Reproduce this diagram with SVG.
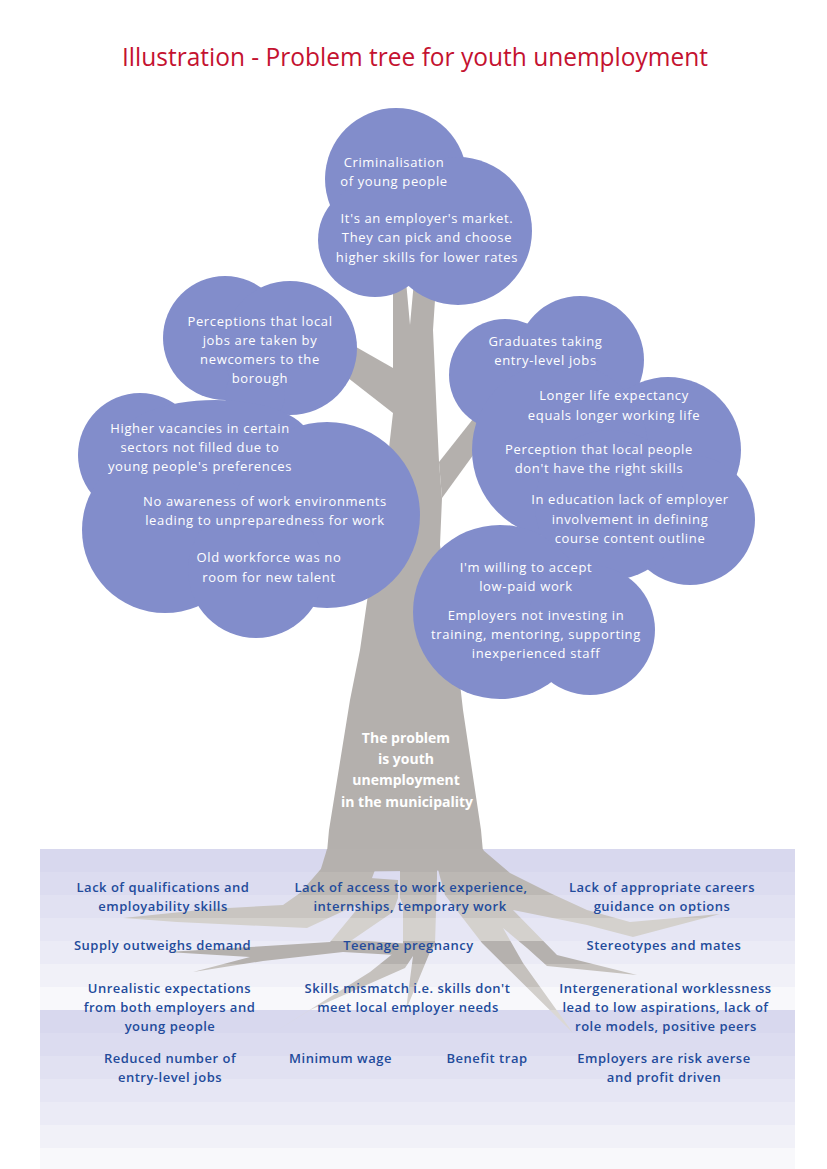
<svg xmlns="http://www.w3.org/2000/svg" width="827" height="1169" viewBox="0 0 827 1169">
<style>
text{font-family:"Open Sans","Noto Sans","DejaVu Sans",sans-serif;text-anchor:middle}
.ct{font-size:13px;fill:#ffffff;letter-spacing:0.65px;font-weight:500}
.rt{font-size:13px;fill:#234b9b;letter-spacing:0.5px;font-weight:600}
.tt{font-size:14px;fill:#ffffff;font-weight:bold}
.title{font-size:26px;fill:#c41230}
.cloud{fill:#828dcb}
.wood{fill:#b4b0ad}
.root{fill:url(#rootGrad)}
</style>
<defs>
<linearGradient id="rootGrad" gradientUnits="userSpaceOnUse" x1="0" y1="849" x2="0" y2="1040">
<stop offset="0" stop-color="#b5b1ae"/><stop offset="0.1204" stop-color="#b5b1ae"/>
<stop offset="0.1204" stop-color="#bcb8b4"/><stop offset="0.2408" stop-color="#bcb8b4"/>
<stop offset="0.2408" stop-color="#c9c5c1"/><stop offset="0.3613" stop-color="#c9c5c1"/>
<stop offset="0.3613" stop-color="#d4d1cd"/><stop offset="0.4817" stop-color="#d4d1cd"/>
<stop offset="0.4817" stop-color="#b5b1ae"/><stop offset="0.6021" stop-color="#b5b1ae"/>
<stop offset="0.6021" stop-color="#c5c1bd"/><stop offset="0.7225" stop-color="#c5c1bd"/>
<stop offset="0.7225" stop-color="#d2cfcb"/><stop offset="0.8429" stop-color="#d2cfcb"/>
<stop offset="0.8429" stop-color="#dbd8d4"/><stop offset="1" stop-color="#dbd8d4"/>
</linearGradient>
</defs>
<rect x="0" y="0" width="827" height="1169" fill="#ffffff"/>
<g id="background-bands">
<rect x="40" y="849" width="755" height="23" fill="#d8d8ee"/>
<rect x="40" y="872" width="755" height="23" fill="#dcdcf0"/>
<rect x="40" y="895" width="755" height="23" fill="#e1e1f2"/>
<rect x="40" y="918" width="755" height="23" fill="#e6e6f4"/>
<rect x="40" y="941" width="755" height="23" fill="#ebebf6"/>
<rect x="40" y="964" width="755" height="23" fill="#f1f1f8"/>
<rect x="40" y="987" width="755" height="23" fill="#f8f8fb"/>
<rect x="40" y="1010" width="755" height="23" fill="#d8d8ee"/>
<rect x="40" y="1033" width="755" height="23" fill="#dcdcf0"/>
<rect x="40" y="1056" width="755" height="23" fill="#e1e1f2"/>
<rect x="40" y="1079" width="755" height="23" fill="#e6e6f4"/>
<rect x="40" y="1102" width="755" height="23" fill="#ebebf6"/>
<rect x="40" y="1125" width="755" height="23" fill="#f1f1f8"/>
<rect x="40" y="1148" width="755" height="21" fill="#f8f8fb"/>
</g>
<g id="title">
<text class="title" x="415" y="66" textLength="586" lengthAdjust="spacingAndGlyphs">Illustration - Problem tree for youth unemployment</text>
</g>
<g id="connectors">
<polygon class="wood" points="393,270 405,270 410,325 415,270 437,270 433,330 437,420 439,462 442,498 440,545 455,640 463,710 481,830 483,852 327,852 329,830 350,700 360,650 388,457 393,413"/>
<polygon class="wood" points="393,368 335,335 325,360 393,413"/>
<polygon class="wood" points="439,462 488,400 500,418 442,498"/>
<polygon class="root" points="327,849 483,849 490,870 320,872"/>
<polygon class="root" points="335,855 320,870 300,893 283,905 210,909 123,918 177,922 307,928 363,902 375,870"/>
<polygon class="root" points="363,902 370,878 398,880 398,898 393,912 352,940 413,944 413,956 343,952 263,961 193,972 250,957 167,952 250,947 330,942"/>
<polygon class="root" points="400,865 437,865 437,877 435,945 430,952 406,1010 413,956 405,968 310,1010 273,1033 370,972 395,952 403,945 403,905 400,898"/>
<polygon class="root" points="476,849 483,850 510,873 550,893 587,910 630,922 720,914 633,937 587,925 513,910 557,955 637,975 547,966 527,948 503,928 523,963 573,1033 482,943 445,895 440,877 437,865 440,849"/>
</g>
<g id="canopy">
<circle class="cloud" cx="396" cy="179" r="71"/>
<circle class="cloud" cx="458" cy="231" r="74"/>
<circle class="cloud" cx="375" cy="240" r="57"/>
<circle class="cloud" cx="225" cy="338" r="62"/>
<circle class="cloud" cx="290" cy="348" r="67"/>
<circle class="cloud" cx="255" cy="395" r="30"/>
<circle class="cloud" cx="140" cy="455" r="62"/>
<ellipse class="cloud" cx="215" cy="440" rx="95" ry="40"/>
<circle class="cloud" cx="230" cy="478" r="32"/>
<circle class="cloud" cx="327" cy="515" r="93"/>
<circle class="cloud" cx="165" cy="530" r="83"/>
<circle class="cloud" cx="256" cy="570" r="68"/>
<circle class="cloud" cx="505" cy="375" r="56"/>
<circle class="cloud" cx="580" cy="360" r="64"/>
<circle class="cloud" cx="668" cy="450" r="73"/>
<circle class="cloud" cx="690" cy="520" r="65"/>
<circle class="cloud" cx="560" cy="450" r="88"/>
<circle class="cloud" cx="610" cy="505" r="75"/>
<circle class="cloud" cx="500" cy="612" r="87"/>
<circle class="cloud" cx="590" cy="630" r="65"/>
</g>
<g id="n-criminalisation"><text class="ct" x="394" y="167">Criminalisation</text><text class="ct" x="394" y="186">of young people</text></g>
<g id="n-employers-market"><text class="ct" x="427" y="223">It's an employer's market.</text><text class="ct" x="427" y="242">They can pick and choose</text><text class="ct" x="427" y="261.5">higher skills for lower rates</text></g>
<g id="n-perceptions-newcomers"><text class="ct" x="260" y="325.5">Perceptions that local</text><text class="ct" x="260" y="344.5">jobs are taken by</text><text class="ct" x="260" y="363.5">newcomers to the</text><text class="ct" x="260" y="382.5">borough</text></g>
<g id="n-higher-vacancies"><text class="ct" x="200" y="432.5">Higher vacancies in certain</text><text class="ct" x="200" y="451.5">sectors not filled due to</text><text class="ct" x="200" y="470.5">young people's preferences</text></g>
<g id="n-no-awareness"><text class="ct" x="265" y="505.5">No awareness of work environments</text><text class="ct" x="265" y="525">leading to unpreparedness for work</text></g>
<g id="n-old-workforce"><text class="ct" x="269" y="562">Old workforce was no</text><text class="ct" x="269" y="581.5">room for new talent</text></g>
<g id="n-graduates"><text class="ct" x="545.5" y="346">Graduates taking</text><text class="ct" x="545.5" y="365">entry-level jobs</text></g>
<g id="n-life-expectancy"><text class="ct" x="614" y="400">Longer life expectancy</text><text class="ct" x="614" y="419.5">equals longer working life</text></g>
<g id="n-perception-skills"><text class="ct" x="599" y="453.5">Perception that local people</text><text class="ct" x="599" y="472.5">don't have the right skills</text></g>
<g id="n-education"><text class="ct" x="630" y="504">In education lack of employer</text><text class="ct" x="630" y="523.5">involvement in defining</text><text class="ct" x="630" y="542.5">course content outline</text></g>
<g id="n-low-paid"><text class="ct" x="526" y="571.5">I'm willing to accept</text><text class="ct" x="526" y="591">low-paid work</text></g>
<g id="n-not-investing"><text class="ct" x="536" y="620">Employers not investing in</text><text class="ct" x="536" y="639">training, mentoring, supporting</text><text class="ct" x="536" y="658">inexperienced staff</text></g>
<g id="n-problem"><text class="tt" x="406" y="743">The problem</text><text class="tt" x="406" y="764">is youth</text><text class="tt" x="406" y="785">unemployment</text><text class="tt" x="407" y="806.5">in the municipality</text></g>
<g id="r-qualifications"><text class="rt" x="163" y="891.5">Lack of qualifications and</text><text class="rt" x="163" y="910.5">employability skills</text></g>
<g id="r-access"><text class="rt" x="411" y="891.5">Lack of access to work experience,</text><text class="rt" x="410" y="910.5">internships, temporary work</text></g>
<g id="r-careers"><text class="rt" x="662" y="891.5">Lack of appropriate careers</text><text class="rt" x="662" y="910.5">guidance on options</text></g>
<g id="r-supply"><text class="rt" x="162.5" y="950">Supply outweighs demand</text></g>
<g id="r-teenage"><text class="rt" x="408.5" y="950">Teenage pregnancy</text></g>
<g id="r-stereotypes"><text class="rt" x="664" y="950">Stereotypes and mates</text></g>
<g id="r-unrealistic"><text class="rt" x="169.5" y="992.5">Unrealistic expectations</text><text class="rt" x="169.5" y="1011.5">from both employers and</text><text class="rt" x="170" y="1030.5">young people</text></g>
<g id="r-mismatch"><text class="rt" x="407.5" y="993">Skills mismatch i.e. skills don't</text><text class="rt" x="408" y="1012">meet local employer needs</text></g>
<g id="r-intergenerational"><text class="rt" x="665.5" y="992.5">Intergenerational worklessness</text><text class="rt" x="665.5" y="1011.5">lead to low aspirations, lack of</text><text class="rt" x="666" y="1030.5">role models, positive peers</text></g>
<g id="r-reduced"><text class="rt" x="170" y="1062.5">Reduced number of</text><text class="rt" x="170" y="1082">entry-level jobs</text></g>
<g id="r-minimum-wage"><text class="rt" x="340.5" y="1062.5">Minimum wage</text></g>
<g id="r-benefit"><text class="rt" x="487" y="1062.5">Benefit trap</text></g>
<g id="r-risk-averse"><text class="rt" x="664" y="1062.5">Employers are risk averse</text><text class="rt" x="664" y="1082">and profit driven</text></g>
</svg>
